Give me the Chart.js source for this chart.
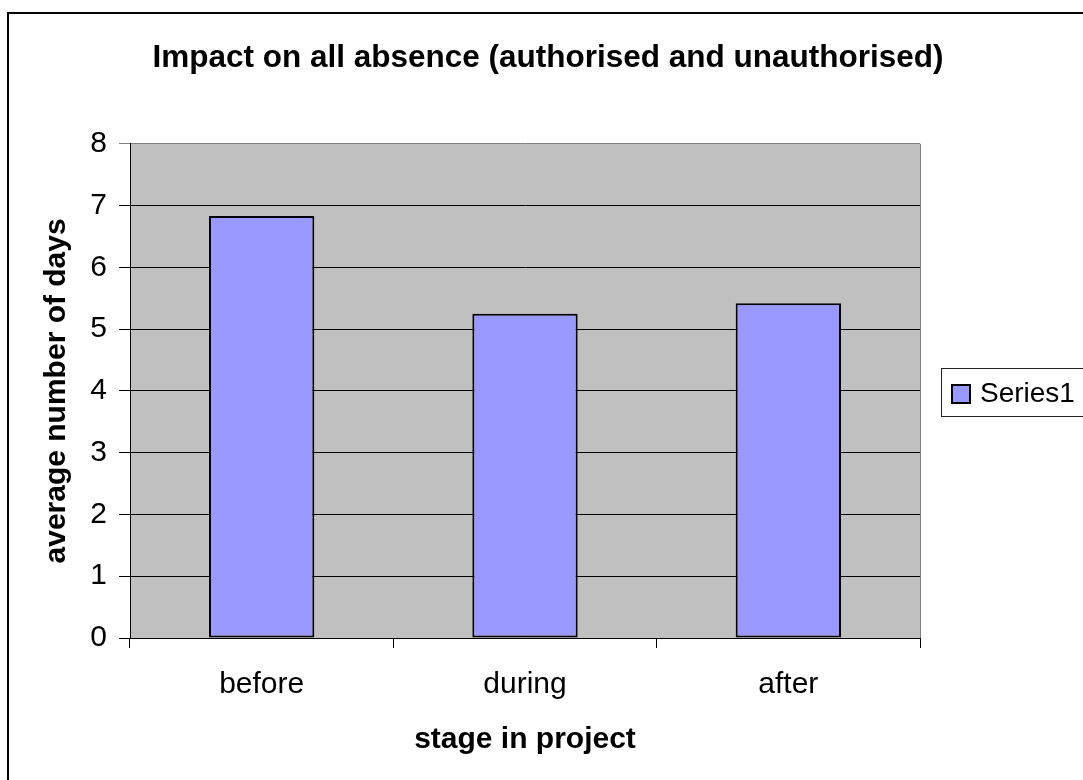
<!DOCTYPE html>
<html>
<head>
<meta charset="utf-8">
<title>Impact on all absence</title>
<script src="https://cdn.jsdelivr.net/npm/chart.js@4/dist/chart.umd.min.js"></script>
<style>
  html, body { margin: 0; padding: 0; background: #fff; }
  #wrap { width: 1083px; height: 780px; }
</style>
</head>
<body>
<div id="wrap"><canvas id="absenceChart" width="1083" height="780"></canvas></div>
<script>
// data
const stages = ['before', 'during', 'after']
const series1 = [6.83, 5.25, 5.42]
const seriesName = 'Series1'
const yTicks = [0, 1, 2, 3, 4, 5, 6, 7, 8]

const FONT = "'Liberation Sans', Arial, sans-serif"
const barColor = '#9999ff'

// grey plot area + frame round the whole chart + legend box
const chartFrame = {
    id: 'chartFrame',
    beforeDraw(chart) {
        const { ctx, chartArea: a } = chart
        ctx.save()
        ctx.fillStyle = '#c0c0c0'
        ctx.fillRect(a.left, a.top, a.right - a.left, a.bottom - a.top)
        ctx.restore()
    },
    beforeDatasetsDraw(chart) {
        const { ctx, chartArea: a } = chart
        ctx.save()
        ctx.strokeStyle = '#808080'
        ctx.lineWidth = 1
        ctx.beginPath()
        ctx.moveTo(a.right + 0.5, a.top)
        ctx.lineTo(a.right + 0.5, a.bottom)
        ctx.stroke()
        ctx.restore()
    },
    afterDraw(chart) {
        const ctx = chart.ctx
        ctx.save()
        // outer border
        ctx.strokeStyle = '#000'
        ctx.lineWidth = 2
        ctx.strokeRect(8, 13, 1200, 900)

        // legend
        const ds = chart.data.datasets[0]
        ctx.fillStyle = '#fff'
        ctx.fillRect(941, 368, 200, 48)
        ctx.strokeStyle = '#222'
        ctx.lineWidth = 1
        ctx.strokeRect(941.5, 368.5, 200, 48)
        ctx.fillStyle = ds.backgroundColor
        ctx.fillRect(951, 384, 20, 20)
        ctx.strokeStyle = '#000'
        ctx.lineWidth = 2
        ctx.strokeRect(952, 385, 18, 18)
        ctx.fillStyle = '#000'
        ctx.font = '28px ' + FONT
        ctx.textBaseline = 'middle'
        ctx.textAlign = 'left'
        ctx.fillText(ds.label, 980, 394)
        ctx.restore()
    }
}

const ctx = document.getElementById('absenceChart').getContext('2d')

new Chart(ctx, {
    type: 'bar',
    data: {
        labels: stages,
        datasets: [{
            label: seriesName,
            data: series1,
            backgroundColor: barColor,
            borderColor: '#000',
            borderWidth: 2,
            borderSkipped: false,
            barPercentage: 0.4,
            categoryPercentage: 1
        }]
    },
    options: {
        responsive: false,
        animation: false,
        devicePixelRatio: 1,
        layout: { padding: { left: 13, right: 0, top: 0, bottom: 0 } },
        plugins: {
            legend: { display: false },
            tooltip: { enabled: false },
            title: {
                display: true,
                text: 'Impact on all absence (authorised and unauthorised)',
                color: '#000',
                font: { family: FONT, size: 31.5, weight: 'bold' },
                padding: { top: 39, bottom: 67 }
            }
        },
        scales: {
            x: {
                grid: {
                    display: true,
                    offset: true,
                    drawOnChartArea: false,
                    drawTicks: true,
                    tickLength: 10,
                    color: '#000'
                },
                border: { color: '#000', width: 1 },
                ticks: {
                    color: '#000',
                    font: { family: FONT, size: 30 },
                    padding: 19,
                    maxRotation: 0
                },
                title: {
                    display: true,
                    text: 'stage in project',
                    color: '#000',
                    font: { family: FONT, size: 30, weight: 'bold' },
                    padding: { top: 0, bottom: 22 }
                },
                afterFit: (scale) => { scale.height = 142 }
            },
            y: {
                min: yTicks[0],
                max: yTicks[yTicks.length - 1],
                afterBuildTicks: (scale) => { scale.ticks = yTicks.map(v => ({ value: v })) },
                grid: {
                    color: (c) => c.tick && c.tick.value === 8 ? '#808080' : '#000',
                    lineWidth: 1,
                    drawTicks: true,
                    tickLength: 11
                },
                border: { color: '#000', width: 1 },
                ticks: {
                    color: '#000',
                    font: { family: FONT, size: 30 },
                    padding: 12
                },
                title: {
                    display: true,
                    text: 'average number of days',
                    color: '#000',
                    font: { family: FONT, size: 30, weight: 'bold' },
                    padding: { top: 26, bottom: 0 }
                },
                afterFit: (scale) => { scale.width = 117 }
            },
            // empty axis on the right keeps room for the legend
            yRight: {
                type: 'linear',
                position: 'right',
                grid: { display: false },
                border: { display: false },
                ticks: { display: false },
                afterFit: (scale) => { scale.width = 163 }
            }
        }
    },
    plugins: [chartFrame]
})
</script>
</body>
</html>
